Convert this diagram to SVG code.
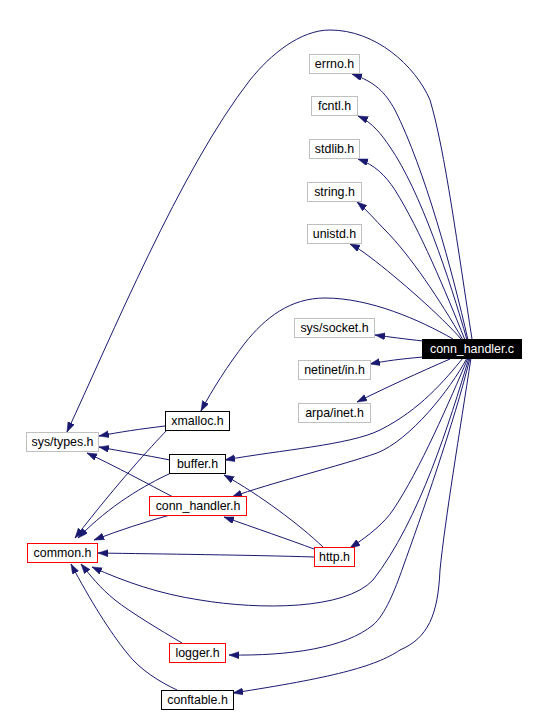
<svg xmlns="http://www.w3.org/2000/svg" width="545" height="721" viewBox="0 0 545 721">
<defs>
<marker id="arr" markerWidth="11" markerHeight="8" refX="10" refY="3.5" orient="auto" markerUnits="userSpaceOnUse">
<path d="M0,0 L10,3.5 L0,7 z" fill="#191970" stroke="#191970" stroke-width="0.5"/>
</marker>
</defs>
<style>
.e{fill:none;stroke:#191970;stroke-width:1;marker-end:url(#arr)}
.n rect{fill:#ffffff;stroke-width:1}
.g rect{stroke:#bfbfbf}
.k rect{stroke:#000000}
.r rect{stroke:#ff0000}
.n text{font-family:"Liberation Sans",Arial,sans-serif;font-size:12.4px;text-anchor:middle;fill:#000000}
#n_conn_handler_c rect{fill:#000000;stroke:#000000}
#n_conn_handler_c text{fill:#ffffff}
</style>
<rect width="545" height="721" fill="#ffffff"/>
<g id="edges">
<path class="e" d="M468,340 C452,270 425,170 395,110 C385,92 375,82 352,74"/>
<path class="e" d="M467,340 C450,280 420,190 390,147 C382,135 372,122 358,116"/>
<path class="e" d="M465,340 C445,290 420,230 395,190 C385,175 375,165 358,159"/>
<path class="e" d="M463,340 C440,300 410,255 385,230 C375,220 367,210 357,202"/>
<path class="e" d="M462,340 C440,315 400,280 370,257 C362,251 356,247 350,244"/>
<path class="e" d="M423,341 C405,339 390,337 375,335"/>
<path class="e" d="M423,357 C400,359 385,361 370,364"/>
<path class="e" d="M450,359 C420,372 385,388 357,402"/>
<path class="e" d="M453,339 C420,320 370,298 325,298 C290,298 265,318 245,343 C228,365 212,390 201,411"/>
<path class="e" d="M472,339 C458,250 445,150 430,100 C415,65 375,30 330,30 C300,30 270,55 250,80 C180,170 110,340 67,432"/>
<path class="e" d="M463,358 C445,380 420,410 380,430 C350,445 280,450 225,460"/>
<path class="e" d="M467,358 C450,390 410,440 377,453 C340,466 270,483 232,497"/>
<path class="e" d="M468,358 C450,400 420,470 393,510 C385,522 370,535 350,548"/>
<path class="e" d="M469,358 C450,420 420,520 373,580 C345,610 260,610 200,600 C160,594 125,582 92,567"/>
<path class="e" d="M470,358 C455,420 420,520 403,567 C395,590 385,615 373,625 C345,648 290,656 229,655"/>
<path class="e" d="M471,358 C460,430 445,520 440,570 C438,615 428,638 400,650 C375,667 330,678 233,693"/>
<path class="e" d="M165,426 C140,429 120,432 99,436"/>
<path class="e" d="M167,430 C150,448 120,480 75,538"/>
<path class="e" d="M170,460 C145,455 120,451 99,447"/>
<path class="e" d="M171,473 C145,485 110,505 78,538"/>
<path class="e" d="M173,497 C150,485 115,466 87,453"/>
<path class="e" d="M170,515 C145,522 120,530 94,540"/>
<path class="e" d="M314,557 C250,555 160,554 98,553"/>
<path class="e" d="M323,547 C300,525 260,495 224,475"/>
<path class="e" d="M314,549 C290,540 255,528 224,517"/>
<path class="e" d="M182,643 C160,630 130,612 115,600 C100,588 90,575 81,564"/>
<path class="e" d="M177,690 C160,682 140,670 127,653 C110,632 90,600 71,564"/>
</g>
<g id="n_errno_h" class="n g"><rect x="309.5" y="54.5" width="50" height="19"/><text x="334.5" y="67.5">errno.h</text></g>
<g id="n_fcntl_h" class="n g"><rect x="311.5" y="96.5" width="46" height="19"/><text x="334.5" y="109.5">fcntl.h</text></g>
<g id="n_stdlib_h" class="n g"><rect x="309.5" y="139.5" width="50" height="19"/><text x="334.5" y="152.5">stdlib.h</text></g>
<g id="n_string_h" class="n g"><rect x="307.5" y="182.5" width="54" height="19"/><text x="334.5" y="195.5">string.h</text></g>
<g id="n_unistd_h" class="n g"><rect x="307.5" y="224.5" width="54" height="19"/><text x="334.5" y="237.5">unistd.h</text></g>
<g id="n_sys_socket_h" class="n g"><rect x="294.5" y="318.5" width="80" height="19"/><text x="334.5" y="331.5">sys/socket.h</text></g>
<g id="n_conn_handler_c" class="n"><rect x="422.5" y="339.5" width="99" height="19"/><text x="472" y="352.7">conn_handler.c</text></g>
<g id="n_netinet_in_h" class="n g"><rect x="298.5" y="360.5" width="72" height="19"/><text x="334.5" y="373.5">netinet/in.h</text></g>
<g id="n_arpa_inet_h" class="n g"><rect x="298.5" y="403.5" width="72" height="19"/><text x="334.5" y="416.5">arpa/inet.h</text></g>
<g id="n_xmalloc_h" class="n k"><rect x="165.5" y="411.5" width="64" height="19"/><text x="197.5" y="424.5">xmalloc.h</text></g>
<g id="n_sys_types_h" class="n g"><rect x="26.5" y="432.5" width="72" height="19"/><text x="62.5" y="445.5">sys/types.h</text></g>
<g id="n_buffer_h" class="n k"><rect x="169.5" y="454.5" width="56" height="19"/><text x="197.5" y="467.5">buffer.h</text></g>
<g id="n_conn_handler_h" class="n r"><rect x="149.5" y="496.5" width="97" height="19"/><text x="198" y="509.5">conn_handler.h</text></g>
<g id="n_common_h" class="n r"><rect x="27.5" y="543.5" width="70" height="19"/><text x="62.5" y="556.5">common.h</text></g>
<g id="n_http_h" class="n r"><rect x="314.5" y="547.5" width="40" height="19"/><text x="334.5" y="560.5">http.h</text></g>
<g id="n_logger_h" class="n r"><rect x="169.5" y="643.5" width="56" height="19"/><text x="197.5" y="656.5">logger.h</text></g>
<g id="n_conftable_h" class="n k"><rect x="161.5" y="690.5" width="72" height="19"/><text x="197.5" y="703.5">conftable.h</text></g>
</svg>
